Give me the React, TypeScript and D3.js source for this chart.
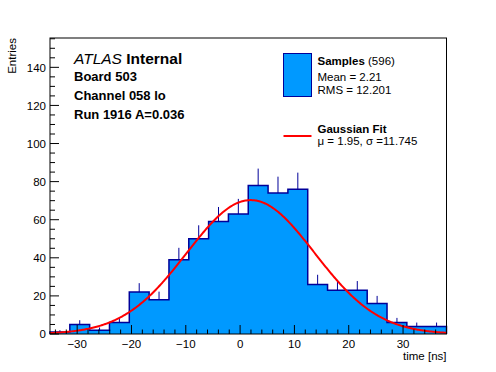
import * as d3 from 'd3'

// histogram: 20 bins over [-35, 38] ns
const binEdgesRange = [-35, 38]
const counts = [1, 5, 2, 6, 22, 18, 39, 50, 59, 63, 78, 74, 76, 26, 23, 23, 16, 6, 4, 4]

const fitMu = 1.95
const fitSigma = 11.745
const fitAmp = 70.3

const xTicks = [-30, -20, -10, 0, 10, 20, 30]
const yTicks = [0, 20, 40, 60, 80, 100, 120, 140]

const headerLines = ['Board 503', 'Channel 058 lo', 'Run 1916 A=0.036']

const W = 496
const H = 372
const FONT = '"Liberation Sans", Arial, Helvetica, sans-serif'
const FILL = '#0099ff'
const EDGE = '#000099'

export default function App() {
  const margin = { top: 38, right: 49.5, bottom: 38, left: 50 }

  const x = d3.scaleLinear().domain(binEdgesRange).range([margin.left, W - margin.right])
  const y = d3.scaleLinear().domain([0, 155.4]).range([H - margin.bottom, margin.top])

  const binW = (binEdgesRange[1] - binEdgesRange[0]) / counts.length
  const edges = d3.range(counts.length + 1).map(i => binEdgesRange[0] + i * binW)

  // step outline of the histogram
  const pts: [number, number][] = [[edges[0], 0]]
  counts.forEach((c, i) => {
    pts.push([edges[i], c])
    pts.push([edges[i + 1], c])
  })
  pts.push([edges[counts.length], 0])
  const histPath = d3.line<[number, number]>().x(d => x(d[0])).y(d => y(d[1]))(pts) || ''

  const gauss = (t: number) => fitAmp * Math.exp(-0.5 * ((t - fitMu) / fitSigma) ** 2)
  const fitX = d3.range(0, 401).map(i => binEdgesRange[0] + (i / 400) * (binEdgesRange[1] - binEdgesRange[0]))
  const fitPath = d3.line<number>().x(d => x(d)).y(d => y(gauss(d)))(fitX) || ''

  const x0 = margin.left
  const x1 = W - margin.right
  const y0 = H - margin.bottom
  const y1 = margin.top

  const xMinor = d3.range(-34, 39, 2).filter(v => v % 10 !== 0)
  const yMinor = d3.range(0, 156, 5).filter(v => v % 20 !== 0)

  return (
    <svg width={W} height={H} style={{ position: 'absolute', left: 0, top: 0, background: '#fff' }} fontFamily={FONT}>
      <rect x={0} y={0} width={W} height={H} fill="#fff" />

      <path d={histPath} fill={FILL} stroke={EDGE} strokeWidth={1.5} />

      {counts.map((c, i) => (
        c > 0 ? (
          <line key={'e' + i}
            x1={x(edges[i] + binW / 2)} x2={x(edges[i] + binW / 2)}
            y1={y(c)} y2={y(c + Math.sqrt(c))}
            stroke={EDGE} strokeWidth={1} />
        ) : null
      ))}

      <path d={fitPath} fill="none" stroke="#ff0000" strokeWidth={2} />

      {/* frame */}
      <rect x={x0} y={y1} width={x1 - x0} height={y0 - y1} fill="none" stroke="#000" strokeWidth={1} />

      {/* x ticks */}
      {xTicks.map(t => (
        <g key={'xt' + t}>
          <line x1={x(t)} x2={x(t)} y1={y0} y2={y0 - 9} stroke="#000" />
          <text x={x(t)} y={348} textAnchor="middle" fontSize={11.5}>{t < 0 ? '\u2212' + Math.abs(t) : t}</text>
        </g>
      ))}
      {xMinor.map(t => (
        <line key={'xm' + t} x1={x(t)} x2={x(t)} y1={y0} y2={y0 - 4.5} stroke="#000" />
      ))}

      {/* y ticks */}
      {yTicks.map(t => (
        <g key={'yt' + t}>
          <line x1={x0} x2={x0 + 9} y1={y(t)} y2={y(t)} stroke="#000" />
          <text x={46} y={y(t) + 4.2} textAnchor="end" fontSize={11.5}>{t}</text>
        </g>
      ))}
      {yMinor.map(t => (
        <line key={'ym' + t} x1={x0} x2={x0 + 5} y1={y(t)} y2={y(t)} stroke="#000" />
      ))}

      {/* axis titles */}
      <text x={x1} y={360} textAnchor="end" fontSize={11.5}>time [ns]</text>
      <text transform={`translate(16, ${y1}) rotate(-90)`} textAnchor="end" fontSize={11.5}>Entries</text>

      {/* ATLAS label */}
      <text x={74} y={63.5} fontSize={15.5}>
        <tspan fontStyle="italic">ATLAS</tspan>
        <tspan fontWeight="bold"> Internal</tspan>
      </text>
      {headerLines.map((s, i) => (
        <text key={s} x={74} y={80.5 + i * 19} fontSize={13} fontWeight="bold">{s}</text>
      ))}

      {/* legend */}
      <rect x={283.5} y={53.5} width={28} height={43} fill={FILL} stroke={EDGE} strokeWidth={1} />
      <text x={317.5} y={65} fontSize={11.5}>
        <tspan fontWeight="bold">Samples</tspan>
        <tspan> (596)</tspan>
      </text>
      <text x={317.5} y={80.5} fontSize={11.5}>Mean = 2.21</text>
      <text x={317.5} y={93.5} fontSize={11.5}>RMS = 12.201</text>

      <line x1={283.5} x2={311.5} y1={136} y2={136} stroke="#ff0000" strokeWidth={2} />
      <text x={317.5} y={132.5} fontSize={11.5} fontWeight="bold">Gaussian Fit</text>
      <text x={317.5} y={145} fontSize={11.5}>{'\u03bc = 1.95, \u03c3 =11.745'}</text>
    </svg>
  )
}
